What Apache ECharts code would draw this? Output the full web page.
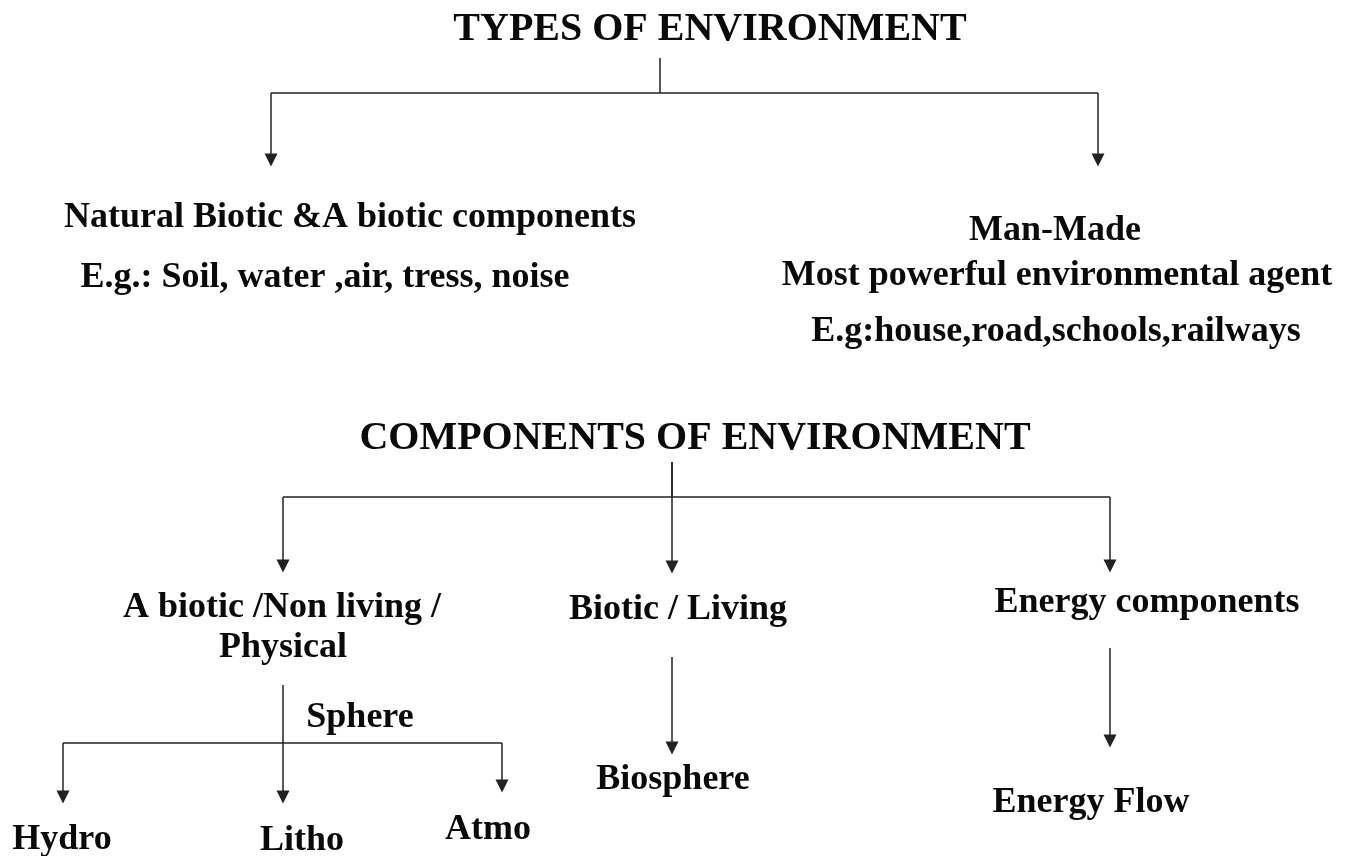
<!DOCTYPE html>
<html>
<head>
<meta charset="utf-8">
<title>Types and Components of Environment</title>
<script src="https://cdn.jsdelivr.net/npm/echarts@6/dist/echarts.min.js"></script>
<style>
  html, body { margin: 0; padding: 0; background: #fff; }
  #chart { width: 1352px; height: 856px; }
</style>
</head>
<body>
<div id="chart"></div>
<script>
// ---------- data: diagram nodes (x, y in diagram units, y grows downward) ----------
var headingNames = ['TYPES OF ENVIRONMENT', 'COMPONENTS OF ENVIRONMENT'];
var headingX = [710, 695];
var headingY = [30, 439];

var itemNames = [
  'Natural Biotic &A biotic components',
  'E.g.: Soil, water ,air, tress, noise',
  'Man-Made',
  'Most powerful environmental agent',
  'E.g:house,road,schools,railways',
  'A biotic /Non living /',
  'Physical',
  'Biotic / Living',
  'Energy components',
  'Sphere',
  'Hydro',
  'Litho',
  'Atmo',
  'Biosphere',
  'Energy Flow'
];
var itemX = [350, 325, 1055, 1057, 1056, 282, 283, 678, 1147, 360, 62, 302, 488, 673, 1091];
var itemY = [218, 278, 231, 276, 332, 608, 648, 610, 603, 718, 840, 841, 830, 780, 803];

// plain connector segments: [x1, y1, x2, y2]
var plainSegments = [
  [660, 58, 660, 93],
  [271, 93, 1098, 93],
  [672, 462, 672, 497],
  [283, 497, 1110, 497],
  [63, 743, 502, 743]
];

// arrow connector segments: [x1, y1, x2, y2], arrow head at the end
var arrowSegments = [
  [271, 93, 271, 160],
  [1098, 93, 1098, 160],
  [283, 497, 283, 566],
  [672, 462, 672, 567],
  [1110, 497, 1110, 566],
  [283, 685, 283, 797],
  [63, 743, 63, 797],
  [502, 743, 502, 786],
  [672, 657, 672, 748],
  [1110, 648, 1110, 741]
];

// ---------- chart ----------
(function () {
  'use strict';

  var chart = echarts.init(document.getElementById('chart'));
  var ink = '#0a0a0a';
  var lineColor = '#222';
  var font = '"Liberation Serif", "Times New Roman", serif';

  function toPoints(names, xs, ys) {
    return names.map(function (n, i) {
      return { name: n, value: [xs[i], ys[i]] };
    });
  }

  function toCoords(segs) {
    return segs.map(function (s) {
      return { coords: [[s[0], s[1]], [s[2], s[3]]] };
    });
  }

  function textSeries(data, size) {
    return {
      type: 'scatter',
      symbolSize: 0,
      itemStyle: { opacity: 1 },
      label: {
        show: true,
        position: 'inside',
        formatter: '{b}',
        color: ink,
        opacity: 1,
        fontFamily: font,
        fontWeight: 'bold',
        fontSize: size
      },
      emphasis: { disabled: true },
      data: data,
      z: 3
    };
  }

  var option = {
    backgroundColor: '#fff',
    animation: false,
    grid: { left: 0, right: 0, top: 0, bottom: 0 },
    xAxis: { type: 'value', min: 0, max: 1352, show: false },
    yAxis: { type: 'value', min: 0, max: 856, inverse: true, show: false },
    series: [
      {
        type: 'lines',
        coordinateSystem: 'cartesian2d',
        symbol: ['none', 'none'],
        lineStyle: { color: lineColor, width: 1.5, opacity: 1 },
        data: toCoords(plainSegments),
        z: 2
      },
      {
        type: 'lines',
        coordinateSystem: 'cartesian2d',
        symbol: ['none', 'triangle'],
        symbolSize: [10, 13],
        lineStyle: { color: lineColor, width: 1.5, opacity: 1 },
        itemStyle: { color: ink },
        data: toCoords(arrowSegments),
        z: 2
      },
      textSeries(toPoints(headingNames, headingX, headingY), 40),
      textSeries(toPoints(itemNames, itemX, itemY), 36)
    ]
  };

  chart.setOption(option);
  window.addEventListener('resize', function () { chart.resize(); });
})();
</script>
</body>
</html>
